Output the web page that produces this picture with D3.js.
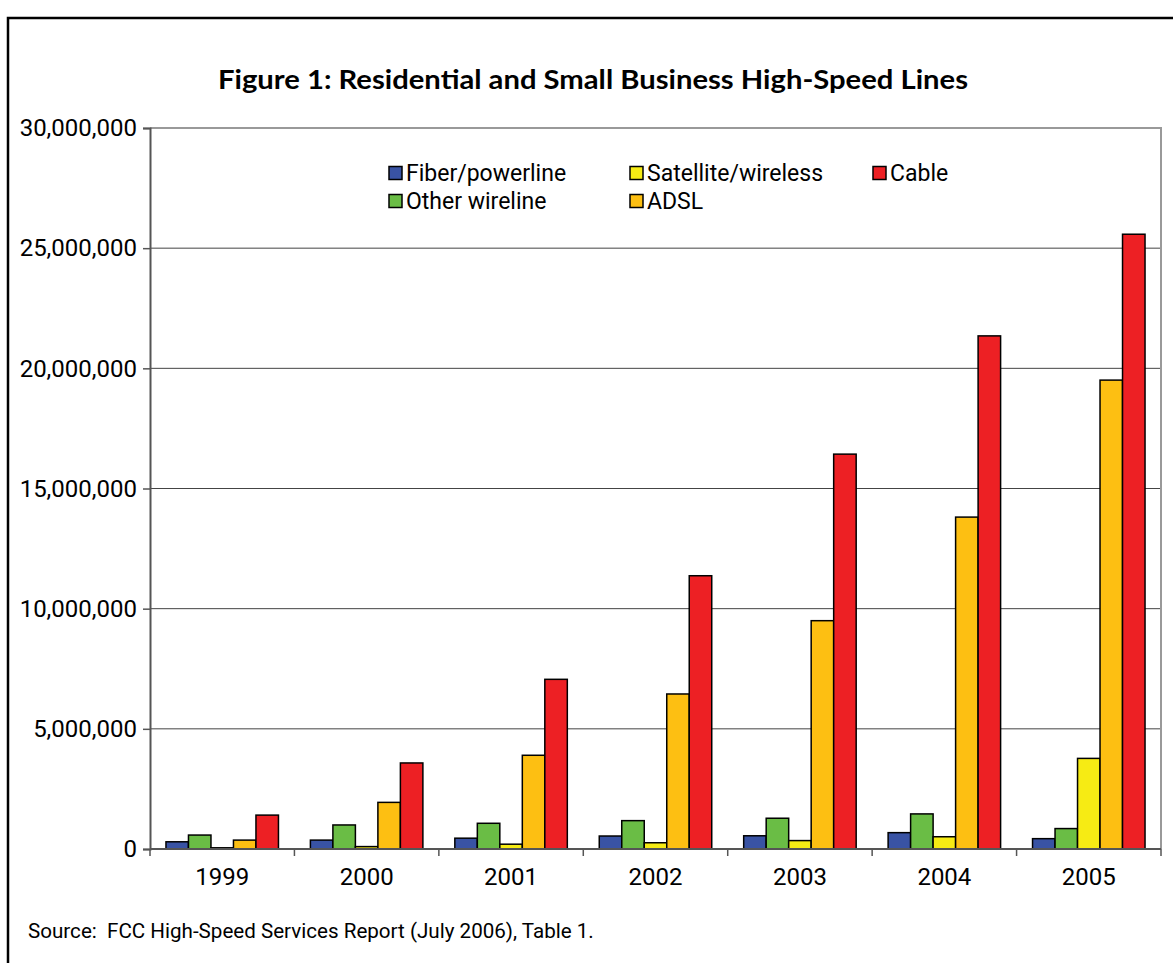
<!DOCTYPE html>
<html lang="en">
<head>
    <meta charset="UTF-8">
    <title>Residential and Small Business High-Speed Lines</title>
    <style>
        body { margin: 0; background: #fff; }
        .axis text { font-family: Roboto, sans-serif; fill: #000; }
        .axis--x path { display: none; }
        .grid line { stroke: #444; stroke-width: 1; }
        .bar { stroke: #000; stroke-width: 1.5; }
    </style>
</head>
<body>
<svg width="1173" height="963"></svg>
<script src="https://d3js.org/d3.v7.min.js"></script>
<script>

    // values
    var years = ["1999", "2000", "2001", "2002", "2003", "2004", "2005"];
    var fiber     = [300000, 370000, 450000, 540000, 550000, 680000, 430000];
    var otherWire = [580000, 1000000, 1070000, 1180000, 1280000, 1460000, 850000];
    var satellite = [50000, 100000, 200000, 260000, 350000, 510000, 3770000];
    var adsl      = [370000, 1940000, 3900000, 6450000, 9500000, 13810000, 19510000];
    var cable     = [1410000, 3580000, 7060000, 11370000, 16430000, 21350000, 25580000];
    var seriesNames = ["Fiber/powerline", "Other wireline", "Satellite/wireless", "ADSL", "Cable"];
    var yTicks = [0, 5000000, 10000000, 15000000, 20000000, 25000000, 30000000];

    var seriesValues = [fiber, otherWire, satellite, adsl, cable];
    var colors = ["#3953a4", "#6abd45", "#f6eb14", "#fdbf12", "#ed2024"];

    var svg = d3.select("svg"),
        margin = {top: 128, right: 12, bottom: 114, left: 150},
        width = +svg.attr("width") - margin.left - margin.right,
        height = +svg.attr("height") - margin.top - margin.bottom;

    // outer frame
    svg.append("path")
        .attr("d", "M8,963V18H1173")
        .attr("fill", "none")
        .attr("stroke", "#000")
        .attr("stroke-width", 2.5);

    svg.append("text")
        .attr("x", 593)
        .attr("y", 89)
        .attr("text-anchor", "middle")
        .attr("font-family", "Lato, sans-serif")
        .attr("font-weight", "bold")
        .attr("font-size", 26)
        .attr("textLength", 750)
        .attr("lengthAdjust", "spacingAndGlyphs")
        .text("Figure 1: Residential and Small Business High-Speed Lines");

    var x0 = d3.scaleBand().domain(years).range([0, width]),
        x1 = d3.scaleBand().domain(seriesNames).range([0, x0.bandwidth()]).paddingOuter(0.71),
        y = d3.scaleLinear().domain([0, 30000000]).range([height, 0]);

    var g = svg.append("g")
        .attr("transform", "translate(" + margin.left + "," + margin.top + ")");

    // gridlines
    g.append("g")
        .attr("class", "grid")
        .selectAll("line")
        .data(yTicks.slice(1, -1))
        .enter().append("line")
        .attr("x1", 0)
        .attr("x2", width)
        .attr("y1", function(d) { return y(d); })
        .attr("y2", function(d) { return y(d); });

    // plot area border top and right
    g.append("path")
        .attr("d", "M0," + y(30000000) + "H" + width + "V" + height)
        .attr("fill", "none")
        .attr("stroke", "#999")
        .attr("stroke-width", 2);

    var rows = [];
    years.forEach(function(yr, i) {
        seriesNames.forEach(function(s, j) {
            rows.push({year: yr, series: s, value: seriesValues[j][i], color: colors[j]});
        });
    });

    g.selectAll(".bar")
        .data(rows)
        .enter().append("rect")
        .attr("class", "bar")
        .attr("x", function(d) { return x0(d.year) + x1(d.series); })
        .attr("y", function(d) { return y(d.value); })
        .attr("width", x1.bandwidth())
        .attr("height", function(d) { return height - y(d.value); })
        .attr("fill", function(d) { return d.color; });

    // y axis
    var yAxis = g.append("g")
        .attr("class", "axis axis--y")
        .call(d3.axisLeft(y).tickValues(yTicks).tickFormat(d3.format(",")).tickSizeOuter(0).tickSize(7).tickPadding(6));
    yAxis.selectAll("text").attr("font-size", 24);
    yAxis.select(".domain").attr("stroke", "#555").attr("stroke-width", 2);
    yAxis.selectAll(".tick line").attr("stroke", "#555").attr("stroke-width", 1.5);

    // x axis
    var xAxis = g.append("g")
        .attr("class", "axis axis--x")
        .attr("transform", "translate(0," + height + ")")
        .call(d3.axisBottom(x0).tickSize(0).tickPadding(19));
    xAxis.selectAll("text").attr("font-size", 24);

    g.append("line")
        .attr("x1", 0).attr("x2", width)
        .attr("y1", height).attr("y2", height)
        .attr("stroke", "#555").attr("stroke-width", 2);

    var bounds = years.map(function(d) { return x0(d); }).concat([width]);
    g.selectAll(".xtick")
        .data(bounds)
        .enter().append("line")
        .attr("class", "xtick")
        .attr("x1", function(d) { return d; })
        .attr("x2", function(d) { return d; })
        .attr("y1", height)
        .attr("y2", height + 7)
        .attr("stroke", "#555")
        .attr("stroke-width", 1.5);

    // legend
    var legendPos = [[389, 173], [389, 201], [630, 173], [630, 201], [873, 173]];
    var legend = svg.append("g");
    seriesNames.forEach(function(s, j) {
        var item = legend.append("g")
            .attr("transform", "translate(" + legendPos[j][0] + "," + legendPos[j][1] + ")");
        item.append("rect")
            .attr("x", 0).attr("y", -6.5)
            .attr("width", 13).attr("height", 13)
            .attr("fill", colors[j])
            .attr("stroke", "#000")
            .attr("stroke-width", 1.5);
        item.append("text")
            .attr("x", 17)
            .attr("y", 8)
            .attr("font-family", "Roboto, sans-serif")
            .attr("font-size", 23)
            .text(s);
    });

    svg.append("text")
        .attr("x", 28)
        .attr("y", 938)
        .attr("font-family", "Roboto, sans-serif")
        .attr("font-size", 20.6)
        .attr("xml:space", "preserve")
        .style("white-space", "pre")
        .text("Source:  FCC High-Speed Services Report (July 2006), Table 1.");

</script>
</body>
</html>
